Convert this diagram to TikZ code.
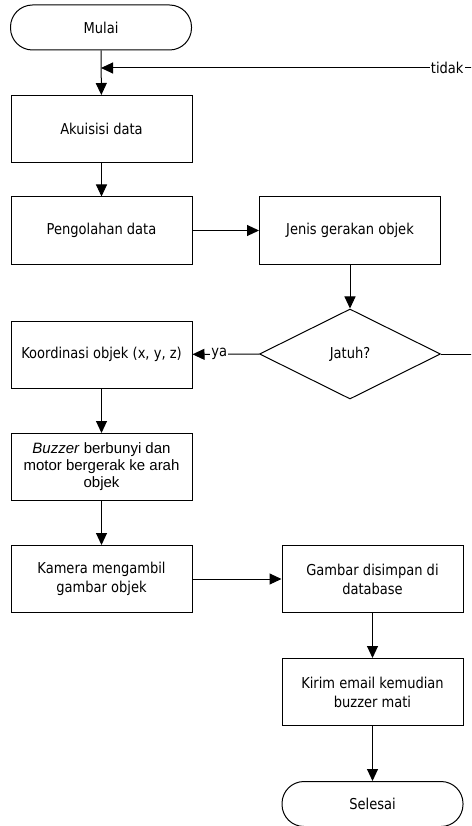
\documentclass[tikz,border=0pt]{standalone}
\usepackage{fontspec}
\setmainfont{DejaVu Sans}[FakeStretch=0.87]
\newfontfamily\arialfont{Liberation Sans}
\usetikzlibrary{positioning,arrows.meta,shapes.geometric}

\begin{document}
\begin{tikzpicture}[
  x=1pt, y=-1pt,
  font=\fontsize{15}{19}\selectfont,
  procbox/.style={draw, line width=1pt, align=center, minimum width=181pt, minimum height=67pt, inner sep=2pt},
  termbox/.style={draw, line width=1pt, rounded corners=22pt, minimum width=181pt, minimum height=45pt},
  decbox/.style={draw, diamond, line width=1pt, minimum width=181pt, minimum height=90pt, inner sep=0pt},
  flow/.style={-{Triangle[width=11pt,length=12pt]}, line width=1pt},
  lbl/.style={fill=white, inner sep=1pt}
]
\useasboundingbox (0,0) rectangle (471,826);
\clip (0,0) rectangle (471,826);

\node[termbox] (mulai) at (101,27.5) {Mulai};
\node[procbox] (akuisisi) at (101.5,129) {Akuisisi data};
\node[procbox] (pengolahan) at (101.5,230.5) {Pengolahan data};
\node[procbox] (jenis) at (350,230.5) {Jenis gerakan objek};
\node[decbox] (jatuh) at (350,354) {Jatuh?};
\node[procbox] (koordinasi) at (101.5,354.5) {Koordinasi objek (x, y, z)};
\node[procbox, font=\arialfont\fontsize{15}{17}\selectfont] (buzzer) at (101.5,467) {\textit{Buzzer} berbunyi dan\\motor bergerak ke arah\\objek};
\node[procbox] (kamera) at (101.5,579) {Kamera mengambil\\gambar objek};
\node[procbox] (gambar) at (372.5,579) {Gambar disimpan di\\database};
\node[procbox] (kirim) at (372.5,692) {Kirim email kemudian\\buzzer mati};
\node[termbox] (selesai) at (372.5,804) {Selesai};

\coordinate (merge) at (mulai.south |- 0,68);
\coordinate (loopdn) at (490,354);
\coordinate (loopup) at (490,68);

\draw[flow] (mulai) -- (akuisisi);
\draw[flow] (akuisisi) -- (pengolahan);
\draw[flow] (pengolahan) -- (jenis);
\draw[flow] (jenis) -- (jatuh);
\draw[flow] (jatuh) -- node[lbl, pos=0.6] {ya} (koordinasi);
\draw[flow] (koordinasi) -- (buzzer);
\draw[flow] (buzzer) -- (kamera);
\draw[flow] (kamera) -- (gambar);
\draw[flow] (gambar) -- (kirim);
\draw[flow] (kirim) -- (selesai);
\draw[line width=1pt] (jatuh.east) -- (loopdn) -- (loopup);
\draw[flow] (loopup) -- node[lbl, pos=0.11] {tidak} (merge);
\end{tikzpicture}
\end{document}
